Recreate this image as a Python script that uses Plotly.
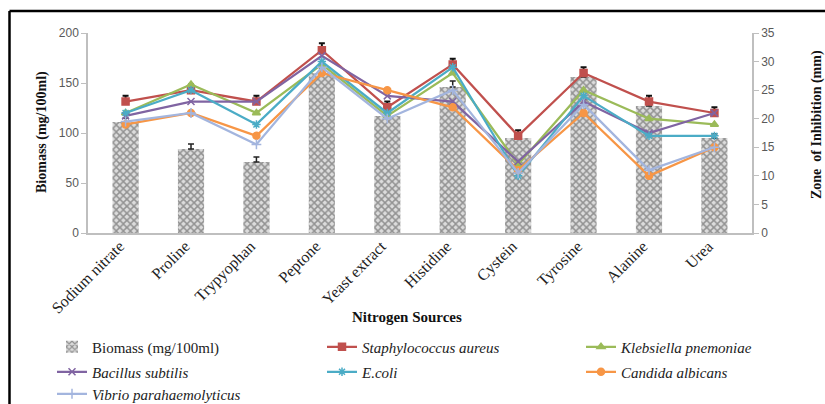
import plotly.graph_objects as go

categories = ["Sodium nitrate", "Proline", "Trypyophan", "Peptone", "Yeast extract",
              "Histidine", "Cystein", "Tyrosine", "Alanine", "Urea"]
biomass = [111, 84, 71, 160, 117, 146, 95, 156, 127, 95]
biomass_err = [4, 5, 5, 5, 4, 6, 4, 5, 4, 4]

staph = [23, 25, 23, 32, 22, 29.5, 17, 28, 23, 21]
staph_err = [1, 1, 1, 1.2, 1, 1, 1, 1, 1, 1]
kleb = [21, 26, 21, 29.5, 20.5, 28, 12, 25, 20, 19]
bacillus = [20.5, 23, 23, 31, 24, 23, 12.5, 23, 17.5, 21]
ecoli = [21, 25, 19, 30, 21, 29, 10, 24, 17, 17]
candida = [19, 21, 17, 28, 25, 22, 11, 21, 10, 15]
vibrio = [19.5, 21, 15.5, 29, 20, 25, 10.5, 22.5, 11, 15]

serif = "Liberation Serif"
sans = "Liberation Sans"

L, R, T, B = 88, 752, 33, 233
def px(x): return (x - L) / (R - L)
def py(y): return (B - y) / (B - T)

fig = go.Figure()
fig.add_trace(go.Bar(
    x=categories, y=biomass, name="Biomass (mg/100ml)", width=0.4,
    marker=dict(color="#d0d0d0", line=dict(width=0),
                pattern=dict(shape="x", fgcolor="#474747", bgcolor="#dcdcdc", size=5, solidity=0.5)),
    error_y=dict(type="data", array=biomass_err, arrayminus=[0]*10, symmetric=False,
                 color="#222", thickness=1.5, width=3),
    yaxis="y", legend="legend"))

series = [
    ("<i>Staphylococcus aureus</i>", staph, "#C0504D", "square", staph_err, "legend2"),
    ("<i>Klebsiella pnemoniae</i>", kleb, "#9BBB59", "triangle-up", None, "legend3"),
    ("<i>Bacillus subtilis</i>", bacillus, "#8064A2", "x-thin-open", None, "legend4"),
    ("<i>E.coli</i>", ecoli, "#4BACC6", "asterisk-open", None, "legend5"),
    ("<i>Candida albicans</i>", candida, "#F79646", "circle", None, "legend6"),
    ("<i>Vibrio parahaemolyticus</i>", vibrio, "#A3B5DE", "cross-thin-open", None, "legend7"),
]
for name, vals, col, sym, err, leg in series:
    kw = {}
    if err is not None:
        kw["error_y"] = dict(type="data", array=err, arrayminus=[0]*10, symmetric=False,
                             color="#111", thickness=2, width=3)
    fig.add_trace(go.Scatter(
        x=categories, y=vals, name=name, mode="lines+markers",
        line=dict(color=col, width=2.25),
        marker=dict(symbol=sym, size=7, color=col, line=dict(color=col, width=1.5)),
        yaxis="y2", legend=leg, **kw))

axis_common = dict(showline=True, linecolor="#BFBFBF", linewidth=1.5, ticks="outside",
                   ticklen=5, tickcolor="#BFBFBF", showgrid=False, zeroline=False,
                   automargin=False,
                   tickfont=dict(family=sans, size=12, color="#595959"))

leg_common = dict(orientation="v", xanchor="left", yanchor="middle", traceorder="normal",
                  itemwidth=30, bgcolor="rgba(0,0,0,0)",
                  font=dict(family=serif, size=15, color="#222"))

col_x = [52, 322, 581]
row_y = [347, 372, 394]

ann_common = dict(xref="paper", yref="paper", showarrow=False, xanchor="center", yanchor="middle")

fig.update_layout(
    width=825, height=404,
    margin=dict(l=L, r=825 - R, t=T, b=404 - B, autoexpand=False),
    paper_bgcolor="white", plot_bgcolor="white",
    xaxis=dict(showline=True, linecolor="#BFBFBF", linewidth=1.5, showgrid=False,
               automargin=False, tickangle=-45, ticks="", ticklabelshift=-6,
               ticklabelstandoff=-4,
               tickfont=dict(family=serif, size=16, color="#222")),
    yaxis=dict(range=[0, 200], dtick=50, **axis_common),
    yaxis2=dict(range=[0, 35], dtick=5, overlaying="y", side="right", **axis_common),
    showlegend=True,
    legend=dict(x=px(col_x[0]), y=py(row_y[0]), **leg_common),
    legend2=dict(x=px(col_x[1]), y=py(row_y[0]), **leg_common),
    legend3=dict(x=px(col_x[2]), y=py(row_y[0]), **leg_common),
    legend4=dict(x=px(col_x[0]), y=py(row_y[1]), **leg_common),
    legend5=dict(x=px(col_x[1]), y=py(row_y[1]), **leg_common),
    legend6=dict(x=px(col_x[2]), y=py(row_y[1]), **leg_common),
    legend7=dict(x=px(col_x[0]), y=py(row_y[2]), **leg_common),
    annotations=[
        dict(text="<b>Biomass (mg/100ml)</b>", x=px(42), y=py(132), textangle=-90,
             font=dict(family=serif, size=14, color="#111"), **ann_common),
        dict(text="<b>Zone  of Inhibition (mm)</b>", x=px(817), y=py(125), textangle=-90,
             font=dict(family=serif, size=14, color="#111"), **ann_common),
        dict(text="<b>Nitrogen Sources</b>", x=px(407), y=py(317),
             font=dict(family=serif, size=15, color="#111"), **ann_common),
    ],
)

# frame lines (top and left) as in the reference
fig.add_shape(type="line", xref="paper", yref="paper", x0=px(9.5), x1=px(830), y0=py(11), y1=py(11),
              line=dict(color="black", width=2.5))
fig.add_shape(type="line", xref="paper", yref="paper", x0=px(9.5), x1=px(9.5), y0=py(11), y1=py(410),
              line=dict(color="black", width=2.5))

fig.write_html("out.html", config={"displayModeBar": False},
               post_script="document.body.style.margin='0px';")
